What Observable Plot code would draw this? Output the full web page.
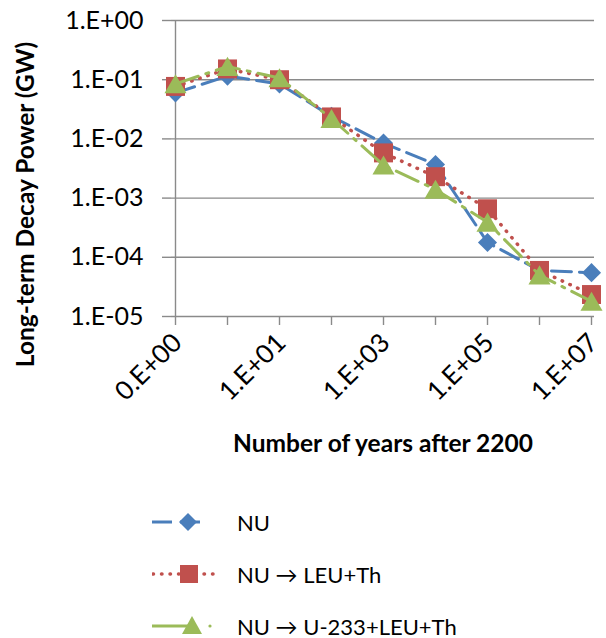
<!DOCTYPE html>
<html>
<head>
<meta charset="utf-8">
<script src="https://cdn.jsdelivr.net/npm/d3@7"></script>
<script src="https://cdn.jsdelivr.net/npm/@observablehq/plot@0.6"></script>
<style>
  html, body { margin: 0; padding: 0; background: #fff; }
  body { width: 606px; height: 638px; overflow: hidden; font-family: Lato, "Open Sans", sans-serif; }
  #legend { padding-top: 16px; }
  .row { display: flex; align-items: center; height: 52px; padding-left: 152px; }
  .row span { margin-left: 15px; font-size: 22px; color: #000; }
</style>
</head>
<body>
<div id="chart"></div>
<div id="legend"></div>
<script>
const categories = ["0.E+00","1.E+00","1.E+01","1.E+02","1.E+03","1.E+04","1.E+05","1.E+06","1.E+07"];
const seriesNames = ["NU", "NU \u2192 LEU+Th", "NU \u2192 U-233+LEU+Th"];
const nu   = [0.06, 0.115, 0.085, 0.024, 0.0085, 0.0037, 0.000178, 0.00006, 0.000055];
const leu  = [0.077, 0.152, 0.1, 0.0235, 0.0058, 0.0023, 0.00066, 0.00006, 0.0000235];
const u233 = [0.085, 0.167, 0.107, 0.022, 0.0036, 0.0014, 0.00039, 0.00005, 0.000018];
const yTicks = [1, 0.1, 0.01, 0.001, 0.0001, 0.00001];
const xTitle = "Number of years after 2200";
const yTitle = "Long-term Decay Power (GW)";

const colors = ["#4A7EBB", "#C0504D", "#9BBB59"];
const gray = "#8a8a8a";

const rows = (vals) => vals.map((v, i) => ({cat: categories[i], v}));
const dNU = rows(nu), dLEU = rows(leu), dU = rows(u233);

const fmtY = d => { const e = Math.round(Math.log10(d)); return "1.E" + (e >= 0 ? "+" : "-") + String(Math.abs(e)).padStart(2, "0"); };
const fmtX = d => categories.indexOf(d) % 2 ? "" : d;

const chart = Plot.plot({
  width: 606,
  height: 480,
  marginLeft: 171,
  marginRight: 12,
  marginTop: 20,
  marginBottom: 164,
  style: {fontFamily: "Lato, 'Open Sans', sans-serif", fontSize: "24px", background: "#fff", color: "#000"},
  x: {type: "point", domain: categories, padding: 0},
  y: {type: "log", domain: [0.00001, 1]},
  marks: [
    Plot.ruleY(yTicks, {stroke: gray, strokeWidth: 1.4}),
    Plot.ruleX([categories[0]], {y1: 1, y2: 0.00001, stroke: gray, strokeWidth: 1.4}),
    Plot.axisY({ticks: yTicks, tickFormat: fmtY, tickSize: 9, tickPadding: 19, stroke: gray, fill: "#000", label: null, strokeWidth: 1.4, fontSize: 25}),
    Plot.axisX({ticks: categories, tickFormat: () => "", tickSize: 9, stroke: gray, label: null, strokeWidth: 1.4}),
    Plot.axisX({ticks: categories, tickFormat: fmtX, tickRotate: -45, tickSize: 9, tickPadding: 13, dx: 2, stroke: "none", fill: "#000", label: null, fontSize: 26}),
    Plot.line(dNU, {x: "cat", y: "v", stroke: colors[0], strokeWidth: 3, strokeDasharray: "20 8"}),
    Plot.dot(dNU, {x: "cat", y: "v", symbol: "diamond2", r: 8.6, fill: colors[0], stroke: "none"}),
    Plot.line(dLEU, {x: "cat", y: "v", stroke: colors[1], strokeWidth: 3.5, strokeDasharray: "0.5 8", strokeLinecap: "round"}),
    Plot.dot(dLEU, {x: "cat", y: "v", symbol: "square", r: 10.7, fill: colors[1], stroke: "none"}),
    Plot.line(dU, {x: "cat", y: "v", stroke: colors[2], strokeWidth: 3, strokeDasharray: "24 8 3 8"}),
    Plot.dot(dU, {x: "cat", y: "v", symbol: "triangle", r: 8.2, dy: 3, fill: colors[2], stroke: "none"}),
    Plot.text([yTitle], {text: d => d, frameAnchor: "left", textAnchor: "middle", lineAnchor: "middle", dx: -145, dy: 36, rotate: -90, fontWeight: "bold", fontSize: 24.5, fill: "#000"}),
    Plot.text([xTitle], {text: d => d, frameAnchor: "bottom", textAnchor: "middle", lineAnchor: "middle", dy: 128, fontWeight: "bold", fontSize: 24.5, fill: "#000"})
  ]
});
document.getElementById("chart").appendChild(chart);

// legend
const swatches = [
  `<svg width="70" height="30"><line x1="0" y1="15" x2="56" y2="15" stroke="${colors[0]}" stroke-width="3" stroke-dasharray="20 8"/><path d="M36,6 L45,15 L36,24 L27,15 Z" fill="${colors[0]}"/></svg>`,
  `<svg width="70" height="30"><line x1="1" y1="15" x2="66" y2="15" stroke="${colors[1]}" stroke-width="3.5" stroke-dasharray="0.5 8" stroke-linecap="round"/><rect x="28" y="6" width="18" height="18" fill="${colors[1]}"/></svg>`,
  `<svg width="70" height="30"><line x1="0" y1="15" x2="38" y2="15" stroke="${colors[2]}" stroke-width="3"/><path d="M40,5 L50,23 L30,23 Z" fill="${colors[2]}"/><circle cx="58" cy="15" r="1.6" fill="${colors[2]}"/></svg>`
];
const legend = document.getElementById("legend");
seriesNames.forEach((name, i) => {
  const row = document.createElement("div");
  row.className = "row";
  row.innerHTML = swatches[i] + `<span>${name}</span>`;
  legend.appendChild(row);
});
</script>
</body>
</html>
